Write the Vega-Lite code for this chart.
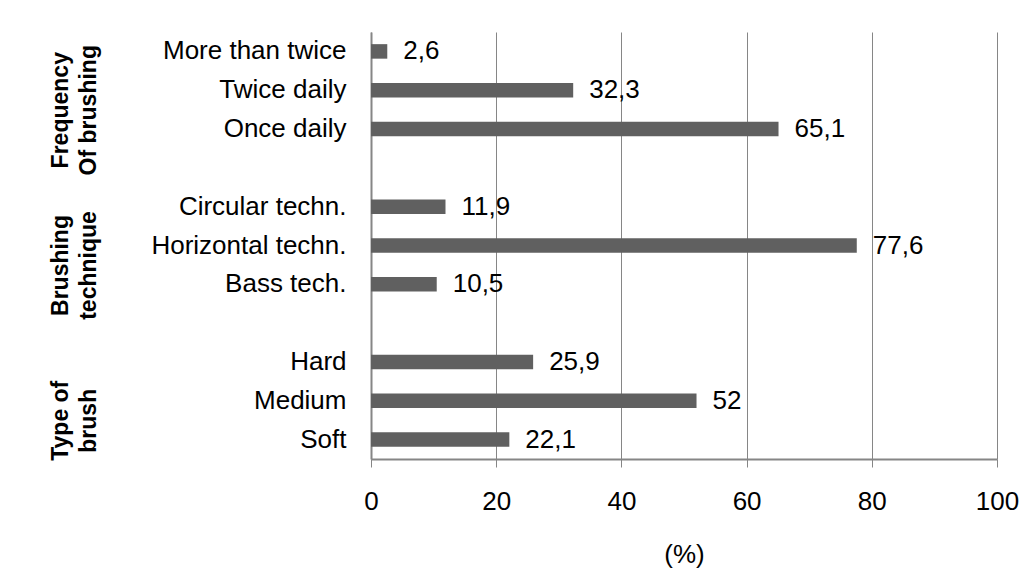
{
  "$schema": "https://vega.github.io/schema/vega-lite/v6.json",
  "padding": {"left": 36, "top": 32, "right": 5, "bottom": 5},
  "background": "white",
  "bounds": "flush",
  "spacing": 285,
  "config": {
    "font": "Liberation Sans",
    "view": {"stroke": null},
    "locale": {"number": {"decimal": ",", "thousands": ".", "grouping": [3], "currency": ["", " €"]}}
  },
  "datasets": {
    "bars": [
      {"group": "Frequency of brushing", "category": "More than twice", "percent": 2.6},
      {"group": "Frequency of brushing", "category": "Twice daily", "percent": 32.3},
      {"group": "Frequency of brushing", "category": "Once daily", "percent": 65.1},
      {"group": "Brushing technique", "category": "Circular techn.", "percent": 11.9},
      {"group": "Brushing technique", "category": "Horizontal techn.", "percent": 77.6},
      {"group": "Brushing technique", "category": "Bass tech.", "percent": 10.5},
      {"group": "Type of brush", "category": "Hard", "percent": 25.9},
      {"group": "Type of brush", "category": "Medium", "percent": 52},
      {"group": "Type of brush", "category": "Soft", "percent": 22.1}
    ],
    "groups": [
      {"label": "Frequency\nOf brushing", "category": "Twice daily"},
      {"label": "Brushing\ntechnique", "category": "Horizontal techn."},
      {"label": "Type of\nbrush", "category": "Medium"}
    ]
  },
  "hconcat": [
    {
      "width": 50,
      "height": 427,
      "data": {"name": "groups"},
      "mark": {"type": "text", "angle": 270, "fontWeight": "bold", "fontSize": 23, "lineHeight": 28, "lineBreak": "\n", "align": "center", "baseline": "middle", "dx": -20, "color": "black"},
      "encoding": {
        "y": {
          "field": "category", "type": "nominal",
          "scale": {"domain": ["More than twice", "Twice daily", "Once daily", " ", "Circular techn.", "Horizontal techn.", "Bass tech.", "  ", "Hard", "Medium", "Soft"], "paddingInner": 0.626, "paddingOuter": 0.313},
          "axis": null
        },
        "text": {"field": "label"}
      }
    },
    {
      "width": 626,
      "height": 427,
      "data": {"name": "bars"},
      "encoding": {
        "y": {
          "field": "category", "type": "nominal",
          "scale": {"domain": ["More than twice", "Twice daily", "Once daily", " ", "Circular techn.", "Horizontal techn.", "Bass tech.", "  ", "Hard", "Medium", "Soft"], "paddingInner": 0.626, "paddingOuter": 0.313},
          "axis": {"title": null, "ticks": false, "labelPadding": 25, "labelFontSize": 26, "labelColor": "black", "domainColor": "#868686", "domainWidth": 2, "grid": false, "labelLimit": 400}
        },
        "x": {
          "field": "percent", "type": "quantitative",
          "scale": {"domain": [0, 100], "nice": false},
          "axis": {"title": "(%)", "values": [0, 20, 40, 60, 80, 100], "format": "d", "grid": true, "gridColor": "#868686", "gridWidth": 1, "domainColor": "#868686", "domainWidth": 2, "tickColor": "#868686", "tickSize": 8, "labelFontSize": 26, "labelColor": "black", "labelPadding": 21, "titleFontSize": 26, "titleFontWeight": "normal", "titleColor": "black", "titlePadding": 27, "labelFlush": false}
        }
      },
      "layer": [
        {"mark": {"type": "bar", "color": "#606060"}},
        {
          "mark": {"type": "text", "align": "left", "baseline": "middle", "dx": 16, "fontSize": 26, "color": "black"},
          "encoding": {"text": {"field": "percent", "type": "quantitative", "format": ".1~f"}}
        }
      ]
    }
  ]
}
